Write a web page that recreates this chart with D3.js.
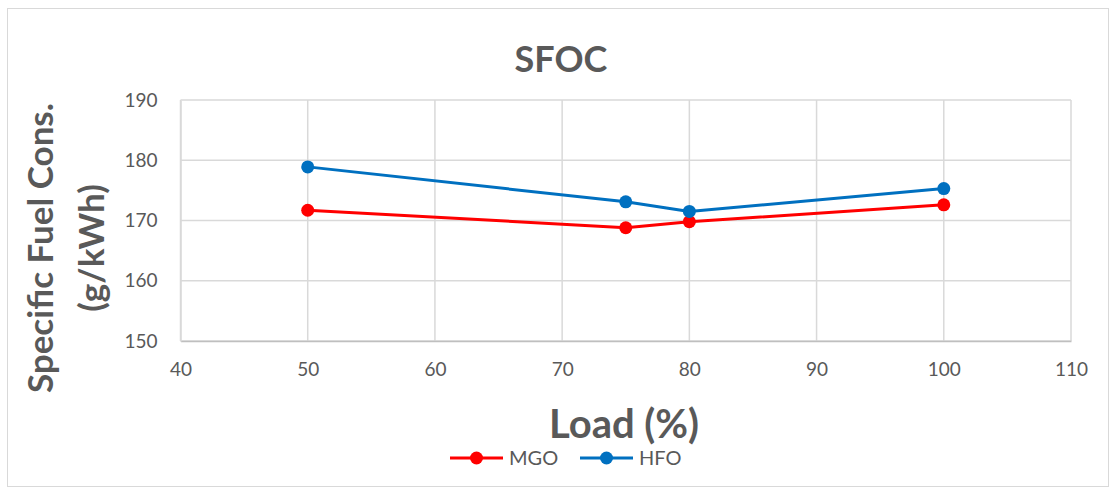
<!DOCTYPE html>
<html>
<head>
<meta charset="utf-8">
<script src="https://cdn.jsdelivr.net/npm/d3@7"></script>
<style>
  html, body { margin: 0; padding: 0; background: #fff; }
  svg { display: block; }
  text { font-family: Lato, "Open Sans", sans-serif; fill: #595959; }
</style>
</head>
<body>
<svg id="chart" width="1109" height="488"></svg>
<script>
// Load points (%) and specific fuel consumption (g/kWh) per fuel
const loads = [50, 75, 80, 100];
const mgo = [171.7, 168.8, 169.8, 172.6];
const hfo = [178.9, 173.1, 171.5, 175.3];
const seriesNames = ["MGO", "HFO"];
const seriesColors = ["#ff0000", "#0070c0"];
const xTicks = [40, 50, 60, 70, 80, 90, 100, 110];
const yTicks = [150, 160, 170, 180, 190];

const svg = d3.select("#chart");
const W = 1109, H = 488;

// chart frame
svg.append("rect")
  .attr("x", 7.5).attr("y", 8.5)
  .attr("width", W - 8).attr("height", H - 10)
  .attr("fill", "#fff").attr("stroke", "#d9d9d9").attr("stroke-width", 1);

const plot = { left: 180.5, right: 1071, top: 100, bottom: 341 };

const x = d3.scaleLinear().domain([40, 110]).range([plot.left, plot.right]);
const y = d3.scaleLinear().domain([150, 190]).range([plot.bottom, plot.top]);

// gridlines
const grid = svg.append("g");
grid.selectAll("line.v").data(xTicks).join("line")
  .attr("x1", d => x(d)).attr("x2", d => x(d))
  .attr("y1", plot.top).attr("y2", plot.bottom)
  .attr("stroke", "#d9d9d9").attr("stroke-width", 1.5);
grid.selectAll("line.h").data(yTicks).join("line")
  .attr("x1", plot.left).attr("x2", plot.right)
  .attr("y1", d => y(d)).attr("y2", d => y(d))
  .attr("stroke", "#d9d9d9").attr("stroke-width", 1.5);

// axes
const xAxis = d3.axisBottom(x).tickValues(xTicks).tickSize(0).tickPadding(22);
const yAxis = d3.axisLeft(y).tickValues(yTicks).tickSize(0).tickPadding(23);

const gx = svg.append("g").attr("transform", `translate(0,${plot.bottom})`).call(xAxis);
const gy = svg.append("g").attr("transform", `translate(${plot.left},0)`).call(yAxis);
[gx, gy].forEach(g => {
  g.select(".domain").attr("stroke", "#bfbfbf").attr("stroke-width", 1.5);
  g.selectAll("text").style("font-size", "19px").attr("fill", "#595959")
    .style("font-family", "Lato, 'Open Sans', sans-serif");
});
gy.select(".domain").attr("stroke", "#d9d9d9");

// series lines and markers
const line = d3.line().x((d, i) => x(loads[i])).y(d => y(d));
[mgo, hfo].forEach((vals, s) => {
  svg.append("path").datum(vals)
    .attr("d", line)
    .attr("fill", "none")
    .attr("stroke", seriesColors[s])
    .attr("stroke-width", 3)
    .attr("stroke-linejoin", "round");
  svg.append("g").selectAll("circle").data(vals).join("circle")
    .attr("cx", (d, i) => x(loads[i]))
    .attr("cy", d => y(d))
    .attr("r", 6.5)
    .attr("fill", seriesColors[s]);
});

// titles
svg.append("text").attr("x", 561).attr("y", 72)
  .attr("text-anchor", "middle")
  .style("font-size", "36px").style("font-weight", "bold")
  .text("SFOC");

svg.append("text").attr("x", 624).attr("y", 438)
  .attr("text-anchor", "middle")
  .style("font-size", "40px").style("font-weight", "bold")
  .text("Load (%)");

const yTitle = svg.append("text")
  .attr("transform", `translate(0,248) rotate(-90)`)
  .attr("text-anchor", "middle")
  .style("font-size", "35px").style("font-weight", "bold");
yTitle.append("tspan").attr("x", 0).attr("y", 53).text("Specific Fuel Cons.");
yTitle.append("tspan").attr("x", 0).attr("y", 104).text("(g/kWh)");

// legend
const legendX = [450, 580];
const legend = svg.append("g");
seriesNames.forEach((name, s) => {
  const g = legend.append("g").attr("transform", `translate(${legendX[s]},458)`);
  g.append("line").attr("x1", 0).attr("x2", 53).attr("y1", 0).attr("y2", 0)
    .attr("stroke", seriesColors[s]).attr("stroke-width", 3);
  g.append("circle").attr("cx", 26.5).attr("cy", 0).attr("r", 6.5).attr("fill", seriesColors[s]);
  g.append("text").attr("x", 59).attr("y", 7).style("font-size", "20px").text(name);
});
</script>
</body>
</html>
